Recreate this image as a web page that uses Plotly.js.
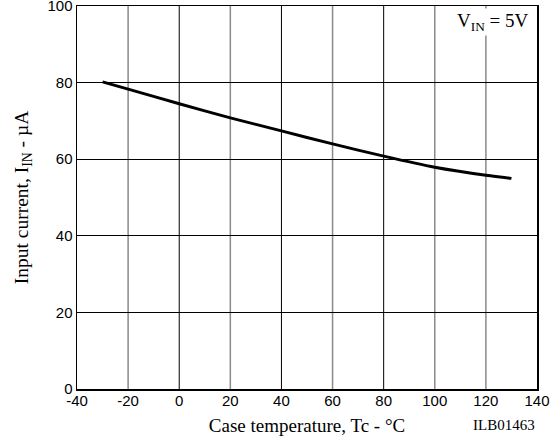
<!DOCTYPE html>
<html>
<head>
<meta charset="utf-8">
<script src="https://cdn.plot.ly/plotly-3.0.1.min.js"></script>
<style>html,body{margin:0;padding:0;background:#fff;}#chart{width:552px;height:436px;}</style>
</head>
<body>
<div id="chart"></div>
<script>
// Data
const temperature = [-30, -20, 0, 20, 40, 60, 80, 100, 120, 130];
const inputCurrent = [80.2, 78.3, 74.5, 70.8, 67.4, 64.0, 60.8, 57.9, 55.8, 55.0];
const xTicks = [-40, -20, 0, 20, 40, 60, 80, 100, 120, 140];
const yTicks = [0, 20, 40, 60, 80, 100];
const grayGrid = [-20, 20, 60, 100, 120];
const blackGrid = [0, 40, 80];

const shapes = [];
grayGrid.forEach(v => shapes.push({type:'line', xref:'x', yref:'paper', x0:v, x1:v, y0:0, y1:1, layer:'below', line:{color:'#8a8a8a', width:1.5}}));
blackGrid.forEach(v => shapes.push({type:'line', xref:'x', yref:'paper', x0:v, x1:v, y0:0, y1:1, layer:'below', line:{color:'#000', width:1}}));

const trace = {
  x: temperature, y: inputCurrent, type:'scatter', mode:'lines',
  line:{color:'#000', width:3, shape:'spline', smoothing:0.8},
  hoverinfo:'skip', showlegend:false
};

const layout = {
  width:552, height:436,
  margin:{l:77, r:15, t:6, b:47},
  paper_bgcolor:'#fff', plot_bgcolor:'#fff',
  showlegend:false,
  xaxis:{
    range:[-40,140], tickvals:xTicks, ticktext:xTicks.map(String),
    showgrid:false, zeroline:false, showline:true, mirror:true,
    linecolor:'#000', linewidth:1.5, ticks:'', ticklabelstandoff:-3,
    tickfont:{family:'Liberation Sans, Arial, sans-serif', size:15, color:'#000'},
    title:{text:'Case temperature, Tc - °C', font:{family:'Liberation Serif, Times New Roman, serif', size:19, color:'#000'}}
  },
  yaxis:{
    range:[0,100.01], tickvals:yTicks, ticktext:yTicks.map(String),
    showgrid:true, gridcolor:'#000', gridwidth:1, zeroline:false,
    showline:true, mirror:true, linecolor:'#000', linewidth:1.5, ticks:'',
    ticklabeloverflow:'allow',
    tickfont:{family:'Liberation Sans, Arial, sans-serif', size:15, color:'#000'},
    title:{text:'Input current, I<sub>IN</sub> - µA', font:{family:'Liberation Serif, Times New Roman, serif', size:19.5, color:'#000'}}
  },
  shapes: shapes,
  annotations:[
    {xref:'paper', yref:'paper', x:0.985, y:0.995, xanchor:'right', yanchor:'top',
     text:'V<sub>IN</sub> = 5V', showarrow:false, bgcolor:'#fff', borderpad:1,
     font:{family:'Liberation Serif, Times New Roman, serif', size:19, color:'#000'}},
    {xref:'paper', yref:'paper', x:1, y:-0.094, xanchor:'right', yanchor:'middle',
     text:'ILB01463', showarrow:false,
     font:{family:'Liberation Serif, Times New Roman, serif', size:15, color:'#000'}}
  ]
};

Plotly.newPlot('chart', [trace], layout, {displayModeBar:false, staticPlot:true});
</script>
</body>
</html>
